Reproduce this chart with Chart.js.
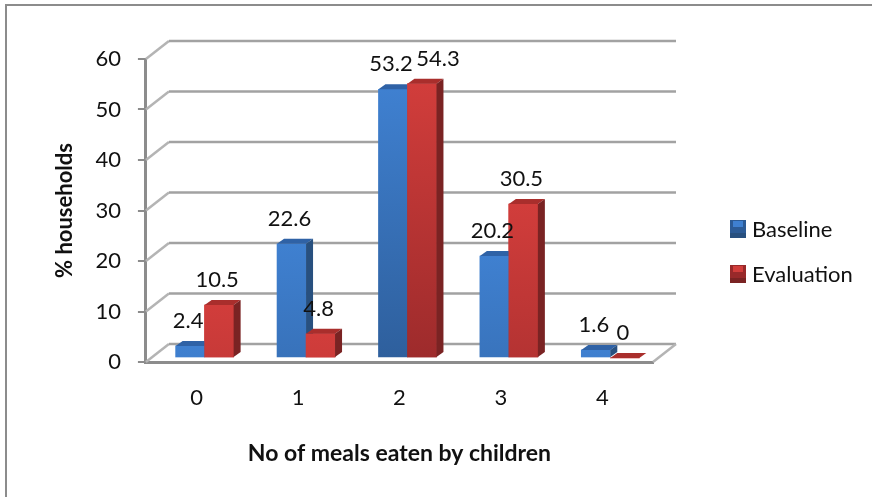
<!DOCTYPE html>
<html>
<head>
<meta charset="utf-8">
<title>Meals eaten by children</title>
<script src="https://cdn.jsdelivr.net/npm/chart.js@4"></script>
<style>
	html, body { margin: 0; background: #fff; overflow: hidden; }
	#frame { position: absolute; left: 5px; top: 4px; right: 0; bottom: 0; border-left: 2px solid #8c8c8c; border-top: 2px solid #8c8c8c; }
	#meals { position: absolute; left: 0; top: 0; }
</style>
</head>
<body>
<div id="frame"></div>
<canvas id="meals" width="872" height="497"></canvas>
<script>
let categories = ["0", "1", "2", "3", "4"];
let baseline = [2.4, 22.6, 53.2, 20.2, 1.6];
let evaluation = [10.5, 4.8, 54.3, 30.5, 0];
let seriesNames = ["Baseline", "Evaluation"];

let fontName = "Lato, Carlito, sans-serif";
let textColor = "#111";

// how far the bars sit behind the front plane
let barShift = { x: 8, y: -4 };
let barDepth = { x: 7, y: 5 };
// how far the back wall sits behind the front plane
let wall = { x: 23, y: -18 };

let blues = { top: "#3f80d0", bottom: "#2c5b96", cap: "#2f62a6", side: "#28507f" };
let reds = { top: "#d13d3b", bottom: "#98292a", cap: "#a92e2c", side: "#7a2323" };

//each bar starts light at its top and darkens over the full plot height
function frontFill(colors) {
	return (context) => {
		let area = context.chart.chartArea;
		if (!area) return colors.top;
		let py = context.chart.scales.y.getPixelForValue(context.raw);
		let gradient = context.chart.ctx.createLinearGradient(0, py, 0, py + area.height);
		gradient.addColorStop(0, colors.top);
		gradient.addColorStop(1, colors.bottom);
		return gradient;
	};
}

//walls and floor behind the bars
let wallsPlugin = {
	id: "walls",
	beforeDatasetsDraw(chart) {
		let ctx = chart.ctx;
		let area = chart.chartArea;
		let y = chart.scales.y;
		ctx.save();
		ctx.lineWidth = 2.5;
		y.ticks.forEach((tick) => {
			let py = y.getPixelForValue(tick.value);
			ctx.strokeStyle = "#b4b4b4";
			ctx.beginPath();
			ctx.moveTo(area.left, py);
			ctx.lineTo(area.left + wall.x, py + wall.y);
			ctx.stroke();
			ctx.strokeStyle = "#a2a2a2";
			ctx.beginPath();
			ctx.moveTo(area.left + wall.x, py + wall.y);
			ctx.lineTo(area.right + wall.x, py + wall.y);
			ctx.stroke();
		});
		ctx.strokeStyle = "#b4b4b4";
		ctx.beginPath();
		ctx.moveTo(area.right, area.bottom);
		ctx.lineTo(area.right + wall.x, area.bottom + wall.y);
		ctx.stroke();
		ctx.restore();
	},
};

function drawFaces(ctx, meta, colors) {
	meta.data.forEach((bar) => {
		let p = bar.getProps(["x", "y", "base", "width"], true);
		let left = p.x - p.width / 2;
		let right = p.x + p.width / 2;

		ctx.fillStyle = colors.cap;
		ctx.beginPath();
		ctx.moveTo(left, p.y);
		ctx.lineTo(left + barDepth.x, p.y - barDepth.y);
		ctx.lineTo(right + barDepth.x, p.y - barDepth.y);
		ctx.lineTo(right, p.y);
		ctx.closePath();
		ctx.fill();

		ctx.fillStyle = colors.side;
		ctx.beginPath();
		ctx.moveTo(right, p.y);
		ctx.lineTo(right + barDepth.x, p.y - barDepth.y);
		ctx.lineTo(right + barDepth.x, p.base - barDepth.y);
		ctx.lineTo(right, p.base);
		ctx.closePath();
		ctx.fill();
	});
}

//sides and tops of the bars, plus the shift onto the floor
let depthPlugin = {
	id: "depth",
	beforeDatasetsDraw(chart) {
		chart.ctx.save();
		chart.ctx.translate(barShift.x, barShift.y);
	},
	afterDatasetDraw(chart, args) {
		//the first dataset is drawn last, so the red bars go again on top of the blue sides
		if (args.index !== 0) return;
		let ctx = chart.ctx;
		let second = chart.getDatasetMeta(1);
		drawFaces(ctx, args.meta, blues);
		second.data.forEach((bar) => bar.draw(ctx));
		drawFaces(ctx, second, reds);
	},
	afterDatasetsDraw(chart) {
		chart.ctx.restore();
	},
};

//value labels over the bars
let valuesPlugin = {
	id: "values",
	afterDatasetsDraw(chart) {
		let ctx = chart.ctx;
		ctx.save();
		ctx.font = "22px " + fontName;
		ctx.fillStyle = textColor;
		ctx.textAlign = "center";
		ctx.textBaseline = "middle";
		chart.data.datasets.forEach((dataset, i) => {
			chart.getDatasetMeta(i).data.forEach((bar, j) => {
				//54.3 is pushed right so it clears 53.2
				let nudge = i === 1 && j === 2 ? 18 : 0;
				ctx.fillText(String(dataset.data[j]), bar.x + barShift.x - 2 + nudge, bar.y + barShift.y - 25);
			});
		});
		ctx.restore();
	},
};

//legend on the right
let keyPlugin = {
	id: "key",
	afterDraw(chart) {
		let ctx = chart.ctx;
		ctx.save();
		ctx.font = "22px " + fontName;
		ctx.textBaseline = "middle";
		chart.data.datasets.forEach((dataset, i) => {
			let colors = i === 0 ? blues : reds;
			let top = 220 + i * 45;
			ctx.fillStyle = colors.side;
			ctx.fillRect(730, top, 16, 18);
			ctx.fillStyle = colors.bottom;
			ctx.fillRect(730, top, 16, 13);
			ctx.fillStyle = colors.top;
			ctx.fillRect(733, top + 1, 10, 6);
			ctx.fillStyle = textColor;
			ctx.fillText(dataset.label, 752, top + 10);
		});
		ctx.restore();
	},
};

new Chart(document.getElementById("meals"), {
	type: "bar",
	data: {
		labels: categories,
		datasets: [
			{ label: seriesNames[0], data: baseline, backgroundColor: frontFill(blues) },
			{ label: seriesNames[1], data: evaluation, backgroundColor: frontFill(reds) },
		],
	},
	plugins: [wallsPlugin, depthPlugin, valuesPlugin, keyPlugin],
	options: {
		responsive: false,
		animation: false,
		layout: { padding: { left: 52, top: 59, right: 219, bottom: 30 } },
		datasets: { bar: { barThickness: 29 } },
		plugins: {
			legend: { display: false },
			tooltip: { enabled: false },
		},
		scales: {
			x: {
				grid: { display: false },
				border: { color: "#8c8c8c", width: 3 },
				ticks: { color: textColor, padding: 14.5, font: { family: fontName, size: 22 } },
				title: {
					display: true,
					text: "No of meals eaten by children",
					color: "#111",
					padding: { top: 14, bottom: 0 },
					font: { family: fontName, size: 23, weight: "bold" },
				},
			},
			y: {
				min: 0,
				max: 60,
				grid: { drawOnChartArea: false, color: "#8c8c8c", lineWidth: 2, tickLength: 8 },
				border: { color: "#8c8c8c", width: 3 },
				ticks: { stepSize: 10, color: textColor, padding: 17, font: { family: fontName, size: 22 } },
				title: {
					display: true,
					text: "% households",
					color: "#111",
					padding: { top: 0, bottom: 0 },
					font: { family: fontName, size: 22, weight: "bold" },
				},
			},
		},
	},
});
</script>
</body>
</html>
